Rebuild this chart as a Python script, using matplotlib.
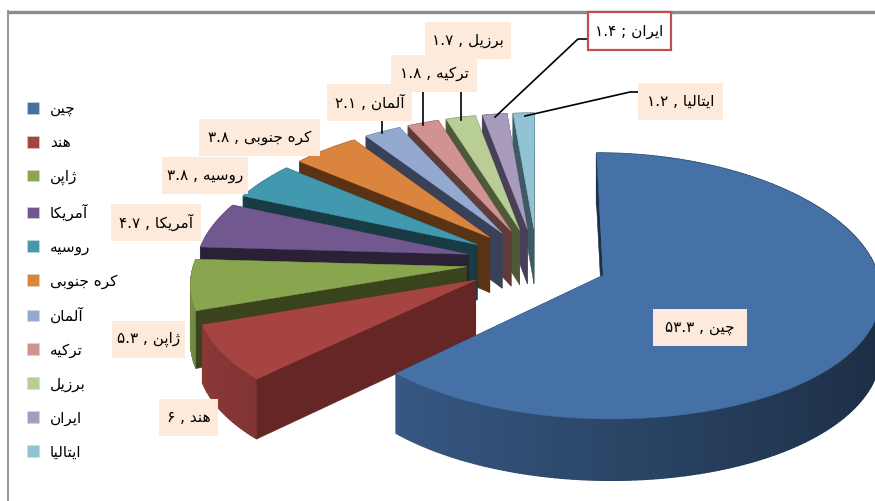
import numpy as np
import matplotlib
matplotlib.use("Agg")
import matplotlib.pyplot as plt
from matplotlib.patches import Polygon, Rectangle, Patch

# ---------- data ----------
countries = ["چین", "هند", "ژاپن", "آمریکا", "روسیه", "کره جنوبی", "آلمان", "ترکیه", "برزیل", "ایران", "ایتالیا"]
label_names = ["چین", "هند", "ژاپن", "آمریکا", "روسیه", "کره جنوبی", "آلمان", "ترکیه", "برزیل", "ایران", "ایتالیا"]
shares = [53.3, 6, 5.3, 4.7, 3.8, 3.8, 2.1, 1.8, 1.7, 1.4, 1.2]
top_colors = ["#4571A7", "#A64441", "#89A54E", "#71588F", "#4298AF", "#DB843D",
              "#93A9CF", "#D19392", "#B9CD96", "#A99BBD", "#91C3D5"]
wall_colors = ["#1C2F47", "#652625", "#39431E", "#2B2137", "#193B44", "#5A3315",
               "#384157", "#5F3B3A", "#4E5A37", "#484057", "#3E5A64"]

# ---------- Arabic shaping (matplotlib has no shaper) ----------
FORMS = {
    "ا": (0xFE8D, 0xFE8E), "آ": (0xFE81, 0xFE82), "د": (0xFEA9, 0xFEAA), "ر": (0xFEAD, 0xFEAE),
    "ز": (0xFEAF, 0xFEB0), "ژ": (0xFB8A, 0xFB8B), "و": (0xFEED, 0xFEEE),
    "ب": (0xFE8F, 0xFE90, 0xFE91, 0xFE92), "پ": (0xFB56, 0xFB57, 0xFB58, 0xFB59),
    "ت": (0xFE95, 0xFE96, 0xFE97, 0xFE98), "ج": (0xFE9D, 0xFE9E, 0xFE9F, 0xFEA0),
    "چ": (0xFB7A, 0xFB7B, 0xFB7C, 0xFB7D), "س": (0xFEB1, 0xFEB2, 0xFEB3, 0xFEB4),
    "ک": (0xFB8E, 0xFB8F, 0xFB90, 0xFB91), "ل": (0xFEDD, 0xFEDE, 0xFEDF, 0xFEE0),
    "م": (0xFEE1, 0xFEE2, 0xFEE3, 0xFEE4), "ن": (0xFEE5, 0xFEE6, 0xFEE7, 0xFEE8),
    "ه": (0xFEE9, 0xFEEA, 0xFEEB, 0xFEEC), "ی": (0xFBFC, 0xFBFD, 0xFBFE, 0xFBFF),
}


def shape(word):
    out = []
    for i, ch in enumerate(word):
        f = FORMS.get(ch)
        if f is None:
            out.append(ch)
            continue
        prev = word[i - 1] if i > 0 else ""
        nxt = word[i + 1] if i + 1 < len(word) else ""
        joins_prev = prev in FORMS and len(FORMS[prev]) == 4
        joins_next = len(f) == 4 and nxt in FORMS
        if joins_prev and joins_next:
            out.append(chr(f[3]))
        elif joins_prev:
            out.append(chr(f[1]))
        elif joins_next:
            out.append(chr(f[2]))
        else:
            out.append(chr(f[0]))
    return "".join(reversed(out))


def fa_digits(v):
    return f"{v:g}".translate(str.maketrans("0123456789", "۰۱۲۳۴۵۶۷۸۹"))


plt.rcParams["font.family"] = ["DejaVu Sans"]
fig = plt.figure(figsize=(8.75, 5.01), dpi=100)
ax = fig.add_axes([0, 0, 1, 1])
ax.set_xlim(0, 875)
ax.set_ylim(501, 0)
ax.axis("off")

# ---------- frame ----------
FRAME = "#8C8C8C"
ax.plot([7.5, 875], [11.5, 11.5], color=FRAME, lw=2.4, solid_capstyle="butt")
ax.plot([7.5, 7.5], [501, 10], color=FRAME, lw=1.3, solid_capstyle="butt")

# ---------- exploded 3D pie ----------
CX, CY = 537, 262
R, RS, EXPL = 272, 130, 71
KPX, KPY, DEPTH = 0.11, 0.08, 56


def project(dx, dy, z=0.0):
    """dx to the right, dy away from the viewer, both in units of the radius."""
    wx = 1.0 / (1.0 + KPX * dy)
    wy = 1.0 / (1.0 + KPY * dy)
    return CX + wx * R * dx, CY - wy * RS * dy + wy * DEPTH * z


def darker(c, f):
    rgb = np.array(matplotlib.colors.to_rgb(c))
    return tuple(np.clip(rgb * f, 0, 1))


total = sum(shares)
edges = np.concatenate([[0], np.cumsum(shares)]) / total * 2 * np.pi
explode_ratio = EXPL / R
N = len(shares)

for i in reversed(range(N)):
    a0, a1 = edges[i], edges[i + 1]
    mid = (a0 + a1) / 2
    ox, oy = explode_ratio * np.sin(mid), explode_ratio * np.cos(mid)
    n = max(6, int((a1 - a0) / np.radians(1.0)))
    th = np.linspace(a0, a1, n + 1)
    ax_, ay_ = ox + np.sin(th), oy + np.cos(th)
    tip_t, tip_b = project(ox, oy, 0), project(ox, oy, 1)
    base = 2 + (N - i) * 5

    def radial(k, z):
        q = [tip_t, project(ax_[k], ay_[k], 0), project(ax_[k], ay_[k], 1), tip_b]
        ax.add_patch(Polygon(q, closed=True, fc=wall_colors[i], ec=wall_colors[i], lw=0.4, zorder=z))

    # clockwise end wall faces away: painted first
    radial(n, base)

    # outer curved wall with shading along the arc
    for k in range(n):
        q = [project(ax_[k], ay_[k], 0), project(ax_[k + 1], ay_[k + 1], 0),
             project(ax_[k + 1], ay_[k + 1], 1), project(ax_[k], ay_[k], 1)]
        f = 0.62 - 0.22 * np.sin((th[k] + th[k + 1]) / 2)
        col = darker(top_colors[i], f)
        ax.add_patch(Polygon(q, closed=True, fc=col, ec=col, lw=1.0, zorder=base + 1))

    # clockwise start wall faces the viewer
    radial(0, base + 2)

    # top face
    pts = [tip_t] + [project(x, y, 0) for x, y in zip(ax_, ay_)]
    ax.add_patch(Polygon(pts, closed=True, fc=top_colors[i], ec=top_colors[i], lw=0.3, zorder=base + 3))

LZ = 100
# ---------- leader lines ----------
leaders = [
    ([382, 382], [121, 133]),
    ([423, 423], [92, 125]),
    ([461, 461], [92, 120]),
    ([495, 578, 588], [117, 39, 39]),
    ([525, 630, 638], [116, 92, 92]),
]
for xs, ys in leaders:
    ax.plot(xs, ys, color="black", lw=1.2, zorder=LZ)

# ---------- data labels ----------
boxes = [(653, 309, 94, 37), (159, 399, 59, 37), (112, 321, 73, 37), (111, 204, 90, 37),
         (162, 157, 86, 37), (199, 119, 121, 37), (327, 84, 85, 37), (391, 55, 86, 37),
         (425, 22, 86, 37), (588, 12, 83, 38), (638, 83, 85, 37)]
for i, (x, y, w, h) in enumerate(boxes):
    sep = " ; " if i == 9 else " , "
    words = label_names[i].split(" ")
    shaped_name = " ".join(shape(wd) for wd in reversed(words))
    txt = fa_digits(shares[i]) + sep + shaped_name
    if i == 9:
        ax.add_patch(Rectangle((x, y), w, h, fc="white", ec="#C0504D", lw=1.6, zorder=LZ + 1))
    else:
        ax.add_patch(Rectangle((x, y), w, h, fc="#FDEADA", ec="none", zorder=LZ + 1))
    ax.text(x + w / 2, y + h / 2, txt, ha="center", va="center", fontsize=11,
            color="black", zorder=LZ + 2)

# ---------- legend ----------
handles = [Patch(fc=c, ec="#D8D8D8", lw=0.4) for c in top_colors]
labels = [" ".join(shape(wd) for wd in reversed(n.split(" "))) for n in countries]
leg = ax.legend(handles, labels, loc="upper left", bbox_to_anchor=(27 / 875, 1 - 101 / 501),
                frameon=False, fontsize=11, handlelength=0.8, handleheight=0.8,
                handletextpad=0.7, labelspacing=1.225, borderpad=0, borderaxespad=0)
leg.set_zorder(LZ)

fig.savefig("out.png", dpi=100)
